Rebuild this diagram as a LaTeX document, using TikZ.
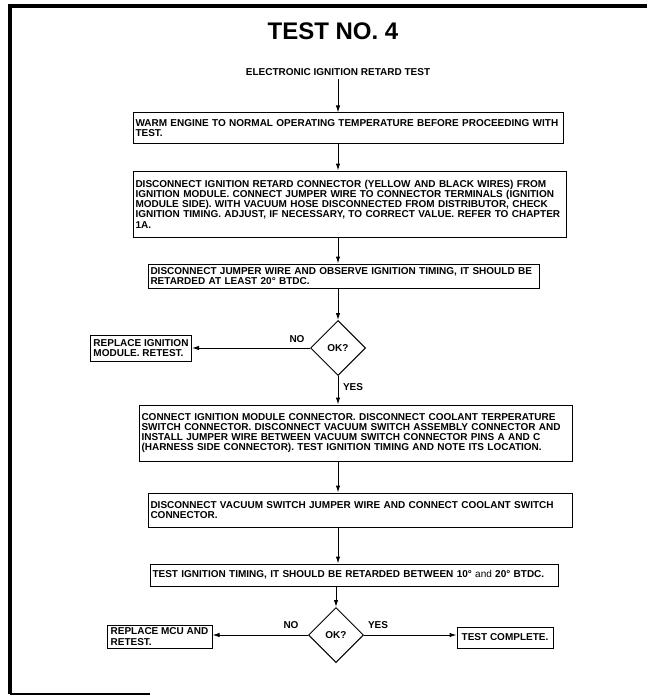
\documentclass[tikz,border=0pt]{standalone}
\usepackage{fontspec}
\setmainfont{Liberation Sans}
\usetikzlibrary{arrows.meta, shapes.geometric}
\newcommand{\boxfont}{\fontsize{10}{10.2}\selectfont\bfseries}
\newcommand{\titlefont}{\fontsize{24}{24}\selectfont\bfseries}

\tikzset{
  testbox/.style={draw, line width=1pt, font=\boxfont, align=left,
    inner xsep=2.5pt, inner ysep=0pt, text width=#1},
  smallbox/.style={draw, line width=1pt, font=\boxfont, align=left,
    inner xsep=3pt, inner ysep=0pt, minimum width=#1},
  okbox/.style={draw, diamond, aspect=1, line width=1pt, inner sep=0pt,
    minimum size=55pt, font=\boxfont},
  flow/.style={line width=1pt, -{Latex[length=7pt,width=4.5pt]}},
  branch/.style={font=\boxfont}
}

\begin{document}
\begin{tikzpicture}[x=1pt,y=-1pt]
\useasboundingbox (0,0) rectangle (647,698);

% frame
\draw[line width=4pt] (10,694) -- (10,6) -- (647,6);
\draw[line width=1.5pt] (10,694) -- (150,694);

\node (title) at (333,31) {\titlefont TEST NO. 4};
\node[branch] (start) at (338,72) {ELECTRONIC IGNITION RETARD TEST};
\coordinate (axis) at (338,0);

% steps
\node[testbox=425pt, minimum height=30pt] (warm) at (348,128)
  {WARM ENGINE TO NORMAL OPERATING TEMPERATURE BEFORE PROCEEDING WITH\\
   TEST.};
\node[testbox=428pt, minimum height=66pt] (jumper) at (349.5,204)
  {DISCONNECT IGNITION RETARD CONNECTOR (YELLOW AND BLACK WIRES) FROM\\
   IGNITION MODULE. CONNECT JUMPER WIRE TO CONNECTOR TERMINALS (IGNITION\\
   MODULE SIDE). WITH VACUUM HOSE DISCONNECTED FROM DISTRIBUTOR, CHECK\\
   IGNITION TIMING. ADJUST, IF NECESSARY, TO CORRECT VALUE. REFER TO CHAPTER\\
   1A.};
\node[testbox=386pt, minimum height=24pt] (observe) at (343.5,276)
  {DISCONNECT JUMPER WIRE AND OBSERVE IGNITION TIMING, IT SHOULD BE\\
   RETARDED AT LEAST 20° BTDC.};
\node[okbox] (check1) at (338,348) {OK?};
\node[smallbox=98pt, minimum height=26pt] (module) at (141,348)
  {REPLACE IGNITION\\ MODULE. RETEST.};
\node[testbox=428pt, minimum height=56pt] (coolant) at (355.5,433)
  {CONNECT IGNITION MODULE CONNECTOR. DISCONNECT COOLANT TERPERATURE\\
   SWITCH CONNECTOR. DISCONNECT VACUUM SWITCH ASSEMBLY CONNECTOR AND\\
   INSTALL JUMPER WIRE BETWEEN VACUUM SWITCH CONNECTOR PINS A AND C\\
   (HARNESS SIDE CONNECTOR). TEST IGNITION TIMING AND NOTE ITS LOCATION.};
\node[testbox=419pt, minimum height=34pt] (vacuum) at (360,510)
  {DISCONNECT VACUUM SWITCH JUMPER WIRE AND CONNECT COOLANT SWITCH\\
   CONNECTOR.};
\node[testbox=403pt, minimum height=22pt] (timing) at (354,575)
  {TEST IGNITION TIMING, IT SHOULD BE RETARDED BETWEEN 10° {\mdseries and} 20° BTDC.};
\node[okbox] (check2) at (336,635) {OK?};
\node[smallbox=105pt, minimum height=23pt] (mcu) at (159.5,636.5)
  {REPLACE MCU AND\\ RETEST.};
\node[smallbox=96pt, minimum height=21pt] (done) at (505,637.5)
  {TEST COMPLETE.};

% connectors
\draw[flow] (start.south -| axis) -- (warm.north -| axis);
\draw[flow] (warm.south -| axis) -- (jumper.north -| axis);
\draw[flow] (jumper.south -| axis) -- (observe.north -| axis);
\draw[flow] (observe.south -| axis) -- (check1.north);
\draw[flow] (check1.west) -- (module.east |- check1.west);
\draw[flow] (check1.south) -- (coolant.north -| check1.south);
\draw[flow] (coolant.south -| axis) -- (vacuum.north -| axis);
\draw[flow] (vacuum.south -| axis) -- (timing.north -| axis);
\draw[flow] (timing.south -| check2) -- (check2.north);
\draw[flow] (check2.west) -- (mcu.east |- check2.west);
\draw[flow] (check2.east) -- (done.west |- check2.east);

\node[branch] (no1) at (297,339) {NO};
\node[branch] (yes1) at (353,387) {YES};
\node[branch] (no2) at (291,625) {NO};
\node[branch] (yes2) at (378,625) {YES};
\end{tikzpicture}
\end{document}
